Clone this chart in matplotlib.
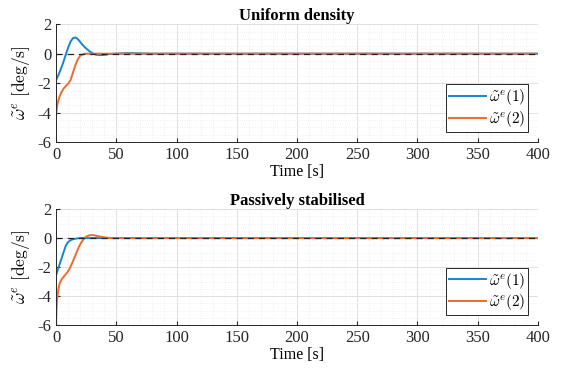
import numpy as np
import matplotlib.pyplot as plt
from matplotlib.ticker import MultipleLocator

plt.rcParams['font.family'] = ['Liberation Serif', 'DejaVu Serif']
plt.rcParams['mathtext.fontset'] = 'cm'
plt.rcParams['axes.unicode_minus'] = False

# values (time [s], rate [deg/s])
t_u1 = [0, 2, 4, 6, 8, 10, 12, 14, 16, 18, 20, 22, 25, 28, 31, 34, 37, 40, 44, 50, 60, 70, 80, 400]
w_u1 = [-1.8, -1.45, -1.05, -0.6, -0.1, 0.4, 0.8, 1.05, 1.1, 1.0, 0.8, 0.6, 0.35, 0.15, 0.0, -0.08, -0.1, -0.08, -0.03, 0.0, 0.04, 0.02, 0.0, 0.0]
t_u2 = [0, 0.01, 0.5, 1, 2, 3, 4, 5, 6, 8, 10, 12, 14, 16, 18, 20, 22, 24, 26, 400]
w_u2 = [0.0, -4.2, -3.8, -3.5, -3.15, -2.9, -2.7, -2.55, -2.4, -2.2, -2.05, -1.8, -1.3, -0.8, -0.4, -0.15, -0.05, 0.0, 0.0, 0.0]

t_p1 = [0, 0.01, 1, 2, 3, 4, 5, 6, 7, 8, 9, 10, 12, 14, 17, 20, 25, 400]
w_p1 = [0.0, -2.6, -2.3, -2.05, -1.8, -1.55, -1.3, -1.05, -0.8, -0.55, -0.4, -0.28, -0.15, -0.08, -0.03, 0.0, 0.0, 0.0]
t_p2 = [0, 0.01, 0.5, 1, 2, 3, 4, 5, 7, 9, 11, 13, 15, 17, 19, 21, 23, 25, 28, 31, 34, 38, 42, 46, 50, 400]
w_p2 = [0.0, -5.9, -4.8, -4.1, -3.5, -3.15, -2.95, -2.8, -2.6, -2.4, -2.15, -1.8, -1.4, -1.0, -0.6, -0.3, -0.05, 0.1, 0.2, 0.2, 0.15, 0.08, 0.03, 0.0, 0.0, 0.0]

titles = ['Uniform density', 'Passively stabilised']
labels = [r'$\tilde{\omega}^e(1)$', r'$\tilde{\omega}^e(2)$']
blue = '#1486cf'
orange = '#f06a2e'

fig = plt.figure(figsize=(5.63, 3.72), dpi=100)
ax1 = fig.add_axes([0.0995, 0.618, 0.856, 0.317])
ax2 = fig.add_axes([0.0995, 0.126, 0.856, 0.312])

data = [((t_u1, w_u1), (t_u2, w_u2)), ((t_p1, w_p1), (t_p2, w_p2))]

for ax, title, d in zip([ax1, ax2], titles, data):
    ax.plot(d[0][0], d[0][1], color=blue, lw=1.4, label=labels[0])
    ax.plot(d[1][0], d[1][1], color=orange, lw=1.4, label=labels[1])
    ax.axhline(0, color='#222222', ls=(0, (5, 4)), lw=0.9)
    ax.set_xlim(0, 400)
    ax.set_ylim(-6, 2)
    ax.xaxis.set_major_locator(MultipleLocator(50))
    ax.xaxis.set_minor_locator(MultipleLocator(10))
    ax.yaxis.set_major_locator(MultipleLocator(2))
    ax.yaxis.set_minor_locator(MultipleLocator(0.5))
    ax.grid(which='major', color='#e0e0e0', lw=0.7)
    ax.grid(which='minor', color='#ebebeb', lw=0.6, ls=':')
    ax.set_axisbelow(True)
    for s in ['top', 'right']:
        ax.spines[s].set_visible(False)
    for s in ['left', 'bottom']:
        ax.spines[s].set_color('#262626')
        ax.spines[s].set_linewidth(0.7)
    ax.tick_params(which='both', direction='in', labelsize=12, colors='#262626')
    ax.tick_params(which='major', length=3)
    ax.tick_params(which='minor', length=0)
    ax.set_xlabel('Time [s]', fontsize=11.5, labelpad=1)
    ax.set_ylabel(r'$\tilde{\omega}^e\ \mathrm{[deg/s]}$', fontsize=12.5, labelpad=4)
    ax.set_title(title, fontsize=12, fontweight='bold', pad=3)
    leg = ax.legend(loc='lower right', bbox_to_anchor=(0.98, 0.085), fontsize=11,
                    fancybox=False, edgecolor='#262626', framealpha=1,
                    handlelength=2.4, handletextpad=0.2, borderpad=0.2,
                    labelspacing=0.1, borderaxespad=0)
    leg.get_frame().set_linewidth(0.7)

fig.savefig('out.png', dpi=100)
